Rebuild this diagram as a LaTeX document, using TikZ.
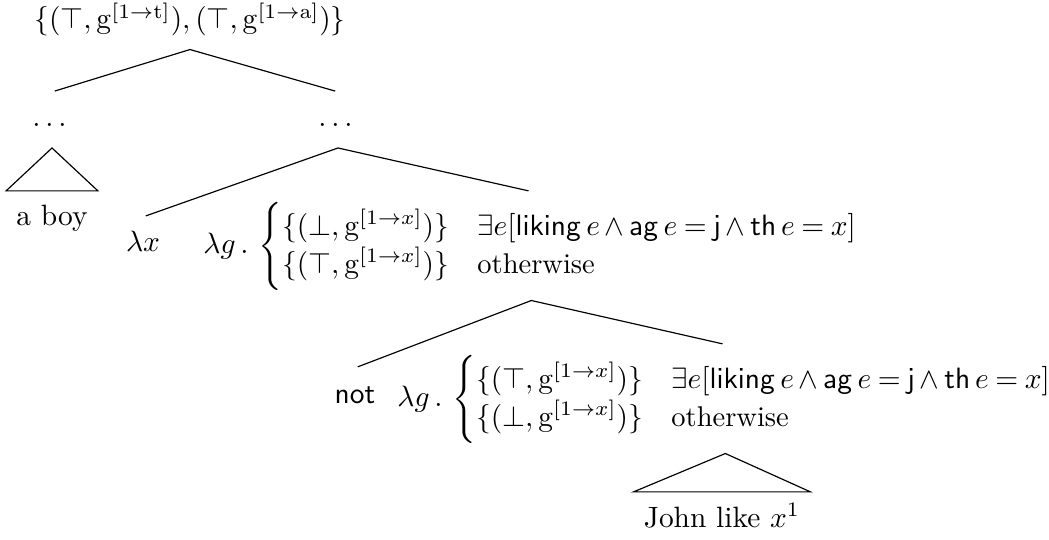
\documentclass[tikz,border=0pt]{standalone}
\usepackage{amsmath}
\begin{document}
\begin{tikzpicture}[x=0.34pt,y=-0.34pt,
  leaf/.style={anchor=base,execute at begin node=\strut},
  expr/.style={anchor=west,font=\fontsize{9.7}{11.6}\selectfont,
    execute at begin node={\medmuskip=3mu\thickmuskip=4mu}},
  branch/.style={shorten <=1pt,shorten >=1pt}]
  \useasboundingbox (0,0) rectangle (1049,540);
  \node[leaf,font=\fontsize{9.6}{11.5}\selectfont] (root) at (190,29) {$\{(\top, \mathrm{g}^{[1\to\mathrm{t}]}), (\top, \mathrm{g}^{[1\to\mathrm{a}]})\}$};
  \node[leaf] (dl) at (52,127) {$\dots$};
  \node[leaf] (dr) at (338,127) {$\dots$};
  \node[leaf] (aboy) at (52,226) {a boy};
  \node[leaf] (lx) at (143,252) {$\lambda x$};
  \node[expr] (fa) at (193,246) {$\lambda g\,.\,\begin{cases}
      \{(\bot, \mathrm{g}^{[1\to x]})\} & \exists e[\mathsf{liking}\,e \wedge \mathsf{ag}\,e = \mathsf{j} \wedge \mathsf{th}\,e = x]\\[-1pt]
      \{(\top, \mathrm{g}^{[1\to x]})\} & \text{otherwise}
    \end{cases}$};
  \node[leaf] (not) at (355,403) {\textsf{not}};
  \node[expr] (fb) at (387,399) {$\lambda g\,.\,\begin{cases}
      \{(\top, \mathrm{g}^{[1\to x]})\} & \exists e[\mathsf{liking}\,e \wedge \mathsf{ag}\,e = \mathsf{j} \wedge \mathsf{th}\,e = x]\\[-1pt]
      \{(\bot, \mathrm{g}^{[1\to x]})\} & \text{otherwise}
    \end{cases}$};
  \node[leaf] (john) at (722,527) {John like $x^1$};
  \draw[branch] (dl.north) -- (root.south) -- (dr.north);
  \draw[branch] (lx.north) -- (dr.south) -- (fa.north);
  \draw[branch] (not.north) -- (fa.south) -- (fb.north);
  \draw (dl.south) -- (aboy.north west) -- (aboy.north east) -- cycle;
  \draw (fb.south) -- (john.north west) -- (john.north east) -- cycle;
\end{tikzpicture}
\end{document}
